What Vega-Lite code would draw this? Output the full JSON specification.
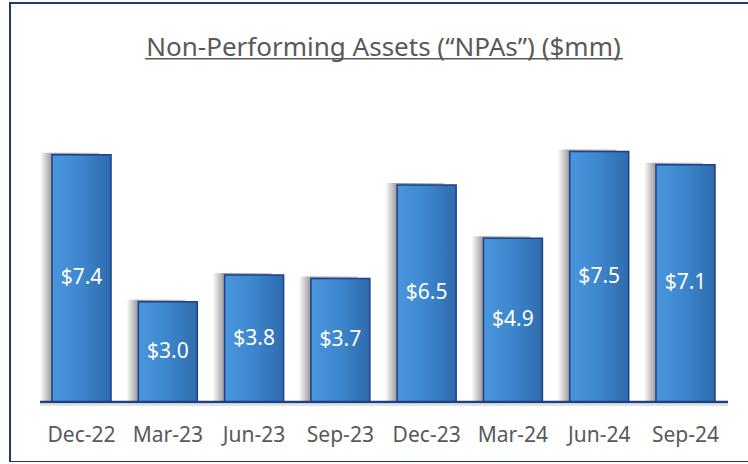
{
  "$schema": "https://vega.github.io/schema/vega-lite/v6.json",
  "width": 747,
  "height": 459,
  "autosize": {"type": "none"},
  "padding": {"left": 10, "top": 3, "right": 0, "bottom": 0},
  "background": "white",
  "title": {
    "text": "Non-Performing Assets (“NPAs”) ($mm)",
    "anchor": "middle",
    "frame": "group",
    "baseline": "alphabetic",
    "offset": -79,
    "font": "Noto Sans",
    "fontSize": 26,
    "fontWeight": "normal",
    "color": "#595959"
  },
  "data": {
    "values": [
      {"q": "Dec-22", "v": 7.4},
      {"q": "Mar-23", "v": 3.0},
      {"q": "Jun-23", "v": 3.8},
      {"q": "Sep-23", "v": 3.7},
      {"q": "Dec-23", "v": 6.5},
      {"q": "Mar-24", "v": 4.9},
      {"q": "Jun-24", "v": 7.5},
      {"q": "Sep-24", "v": 7.1}
    ]
  },
  "encoding": {
    "x": {
      "field": "q",
      "type": "nominal",
      "sort": null,
      "scale": {"paddingInner": 0.316, "paddingOuter": 0.487},
      "axis": {
        "title": null,
        "domain": false,
        "ticks": false,
        "grid": false,
        "labelAngle": 0,
        "labelFont": "Noto Sans",
        "labelFontSize": 21,
        "labelColor": "#595959",
        "labelPadding": 22,
        "offset": -60
      }
    }
  },
  "layer": [
    {
      "mark": {
        "type": "bar",
        "xOffset": -12,
        "yOffset": -2,
        "strokeWidth": 0,
        "color": {
          "gradient": "linear",
          "x1": 0, "x2": 1, "y1": 0, "y2": 0,
          "stops": [
            {"offset": 0, "color": "#ffffff"},
            {"offset": 0.2, "color": "#9a9a9a"},
            {"offset": 1, "color": "#c8c8c8"}
          ]
        }
      },
      "encoding": {
        "y": {"field": "v", "type": "quantitative", "axis": null, "scale": {"domain": [-1.796, 11.946], "nice": false, "zero": false}},
        "y2": {"datum": 0}
      }
    },
    {
      "mark": {
        "type": "bar",
        "stroke": "#1F3F87",
        "strokeWidth": 1.5,
        "color": {
          "gradient": "linear",
          "x1": 0, "x2": 1, "y1": 0, "y2": 0,
          "stops": [
            {"offset": 0, "color": "#4A96DC"},
            {"offset": 0.45, "color": "#3E88D0"},
            {"offset": 1, "color": "#2E6BAD"}
          ]
        }
      },
      "encoding": {
        "y": {"field": "v", "type": "quantitative", "axis": null, "scale": {"domain": [-1.796, 11.946], "nice": false, "zero": false}},
        "y2": {"datum": 0}
      }
    },
    {
      "data": {"values": [{}]},
      "mark": {"type": "rule", "color": "#e2e2e2", "strokeWidth": 2, "yOffset": 3, "xOffset": -41.5, "x2Offset": 42.5},
      "encoding": {
        "x": {"datum": "Dec-22"},
        "x2": {"datum": "Sep-24"},
        "y": {"datum": 0, "axis": null, "scale": {"domain": [-1.796, 11.946], "nice": false, "zero": false}}
      }
    },
    {
      "data": {"values": [{}]},
      "mark": {"type": "rule", "color": "#1F3F80", "strokeWidth": 2.5, "xOffset": -41.5, "x2Offset": 42.5},
      "encoding": {
        "x": {"datum": "Dec-22"},
        "x2": {"datum": "Sep-24"},
        "y": {"datum": 0, "axis": null, "scale": {"domain": [-1.796, 11.946], "nice": false, "zero": false}}
      }
    },
    {
      "data": {"values": [{}]},
      "mark": {"type": "rule", "color": "#595959", "strokeWidth": 1.5, "xOffset": 63.5, "x2Offset": -62.5},
      "encoding": {
        "x": {"datum": "Dec-22"},
        "x2": {"datum": "Sep-24"},
        "y": {"datum": 10.28, "axis": null, "scale": {"domain": [-1.796, 11.946], "nice": false, "zero": false}}
      }
    },
    {
      "mark": {"type": "text", "color": "#ffffff", "font": "Noto Sans", "fontSize": 21, "baseline": "middle", "align": "center"},
      "encoding": {
        "y": {"field": "v", "type": "quantitative", "axis": null, "scale": {"domain": [-3.592, 23.892], "nice": false, "zero": false}},
        "text": {"field": "v", "type": "quantitative", "format": "$.1f"}
      }
    }
  ],
  "resolve": {"scale": {"y": "independent"}},
  "config": {
    "view": {"stroke": "#1F3870", "strokeWidth": 2}
  }
}
